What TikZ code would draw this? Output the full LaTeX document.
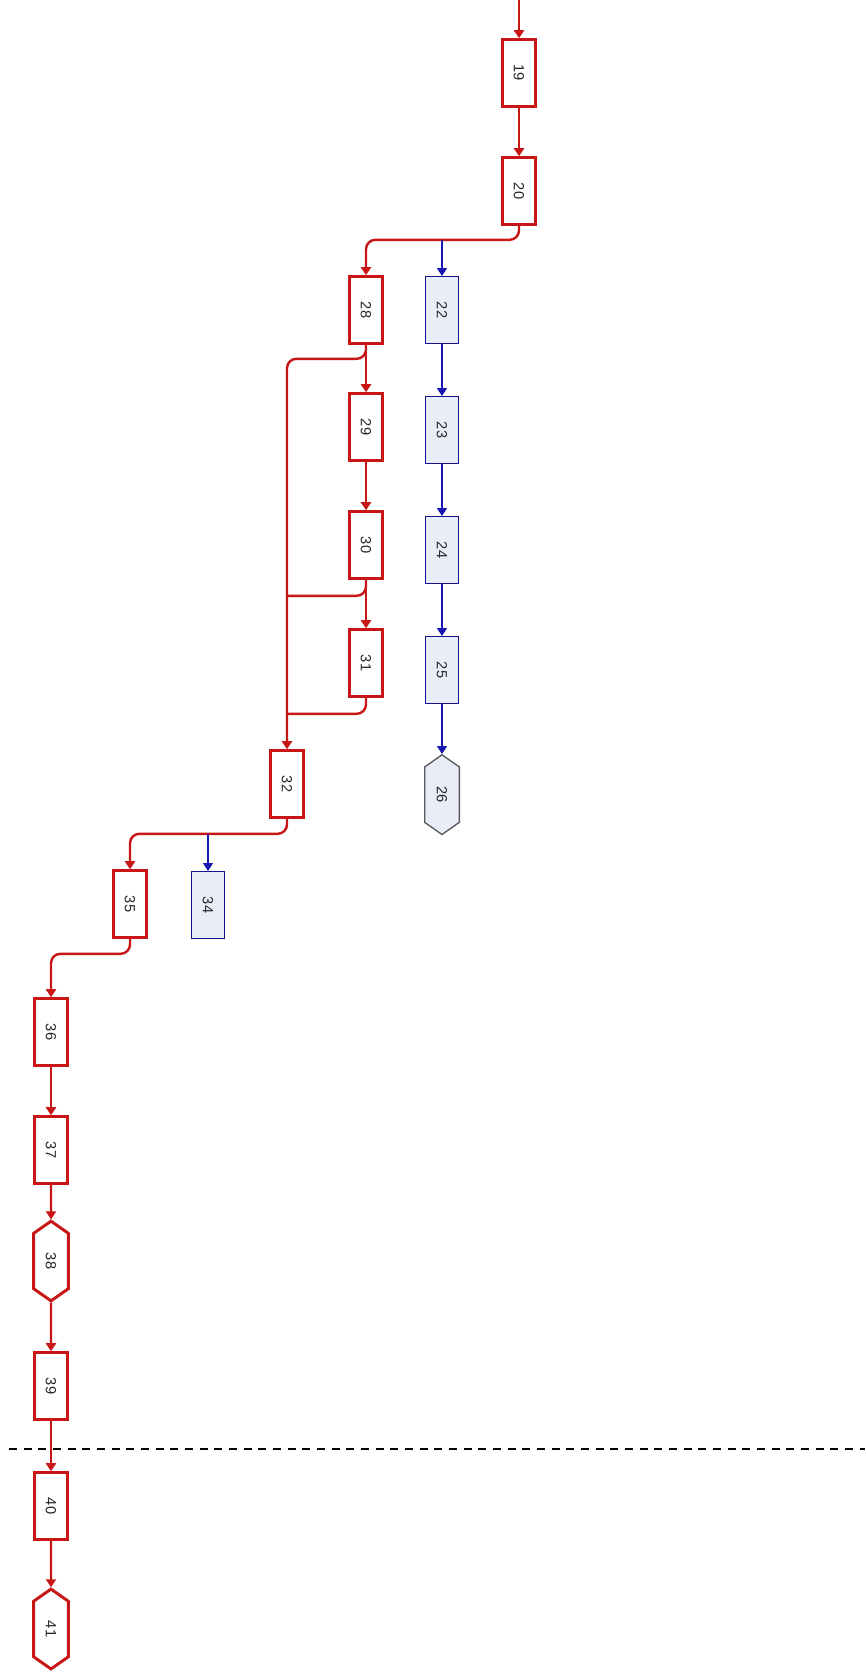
\documentclass[tikz,border=0pt]{standalone}
\usepackage{fontspec}
\setmainfont{Liberation Sans}
\usepackage{graphicx}
\usetikzlibrary{arrows.meta,positioning,calc,shapes.symbols}

\definecolor{critred}{RGB}{200,22,22}
\definecolor{normblue}{RGB}{24,24,176}
\definecolor{taskfill}{RGB}{233,237,248}
\newcommand{\vlab}[1]{\rotatebox{-90}{#1}}

\begin{document}
\begin{tikzpicture}[
    x=0.75pt, y=-0.75pt,
    every node/.style={font=\fontsize{11}{13}\selectfont, inner sep=0pt, text=black!85},
    crit/.style={draw=critred, line width=2.2pt, fill=white, minimum width=24.75pt, minimum height=50pt},
    task/.style={draw=normblue!80!black, line width=1pt, fill=taskfill, minimum width=24.75pt, minimum height=50pt},
    milestone/.style={signal, signal to=north and south, signal pointer angle=110, minimum width=26pt, minimum height=47pt},
    critarrow/.style={-{Triangle[width=7.5pt,length=6pt]}, draw=critred, line width=1.8pt, rounded corners=7pt},
    critline/.style={draw=critred, line width=1.8pt, rounded corners=7pt},
    taskarrow/.style={-{Triangle[width=7.5pt,length=6pt]}, draw=normblue, line width=1.2pt},
    node distance=39pt
]
\useasboundingbox (0,0) rectangle (865,1674);

% cut-off line
\coordinate (cutL) at (9,1449);
\coordinate (cutR) at (865,1449);
\draw[dashed, line width=1pt, dash pattern=on 6pt off 5pt] (cutL) -- (cutR);

% critical path
\coordinate (start) at (519,0);
\node[crit] (t19) at (519,73) {\vlab{19}};
\node[crit] (t20) at (519,191) {\vlab{20}};
\node[crit] (t28) at (366,310) {\vlab{28}};
\node[crit] (t29) at (366,427) {\vlab{29}};
\node[crit] (t30) at (366,545) {\vlab{30}};
\node[crit] (t31) at (366,663) {\vlab{31}};
\node[crit] (t32) at (287,784) {\vlab{32}};
\node[crit] (t35) at (130,904) {\vlab{35}};
\node[crit] (t36) at (51,1032) {\vlab{36}};
\node[crit] (t37) at (51,1150) {\vlab{37}};
\node[crit, milestone] (t38) at (51,1261) {\vlab{38}};
\node[crit] (t39) at (51,1386) {\vlab{39}};
\node[crit] (t40) at (51,1506) {\vlab{40}};
\node[crit, milestone] (t41) at (51,1629) {\vlab{41}};

% side tasks
\node[task] (t22) at (442,310) {\vlab{22}};
\node[task, below=of t22] (t23) {\vlab{23}};
\node[task, below=of t23] (t24) {\vlab{24}};
\node[task, below=of t24] (t25) {\vlab{25}};
\node[task, milestone, draw=black!65, below=37.5pt of t25] (t26) {\vlab{26}};
\node[task] (t34) at (208,905) {\vlab{34}};

% links
\draw[critarrow] (start) -- (t19);
\draw[critarrow] (t19) -- (t20);
\draw[critarrow] (t20.south) -- ++(0,14) coordinate (s20) -| (t28.north);
\draw[critarrow] (t28) -- (t29);
\draw[critarrow] (t29) -- (t30);
\draw[critarrow] (t30) -- (t31);
\draw[critarrow] (t28.south) -- ++(0,14) -| (t32.north);
\draw[critline] (t30.south) |- ($(t32.north |- t30.south)+(0,16)$);
\draw[critline] (t31.south) |- ($(t32.north |- t31.south)+(0,16)$);
\draw[critarrow] (t32.south) -- ++(0,15) coordinate (s32) -| (t35.north);
\draw[critarrow] (t35.south) -- ++(0,15) -| (t36.north);
\draw[critarrow] (t36) -- (t37);
\draw[critarrow] (t37) -- (t38);
\draw[critarrow] (t38) -- (t39);
\draw[critarrow] (t39) -- (t40);
\draw[critarrow] (t40) -- (t41);

\draw[taskarrow] (t22.north |- s20) -- (t22.north);
\draw[taskarrow] (t22) -- (t23);
\draw[taskarrow] (t23) -- (t24);
\draw[taskarrow] (t24) -- (t25);
\draw[taskarrow] (t25) -- (t26);
\draw[taskarrow] (t34.north |- s32) -- (t34.north);
\end{tikzpicture}
\end{document}
